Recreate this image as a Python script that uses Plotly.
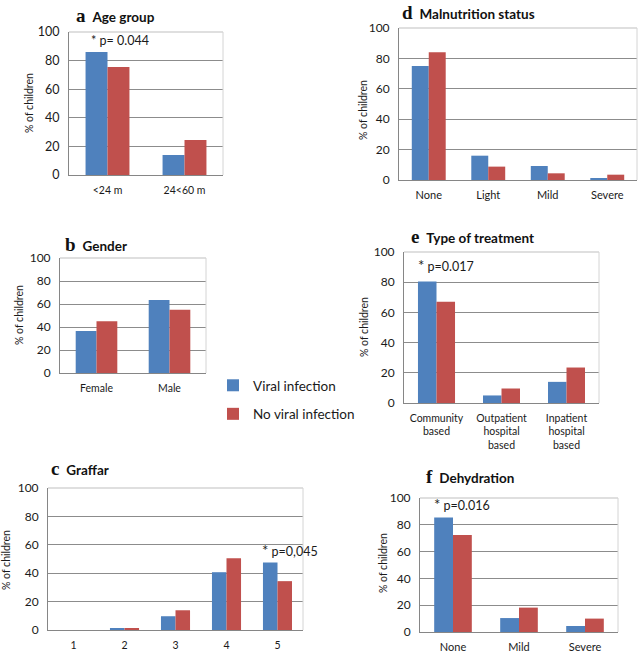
import plotly.graph_objects as go

W, H = 638, 653
BLUE = "#4F81BD"
RED = "#C0504D"
FONT = "Lato, Open Sans, sans-serif"
SERIF = "Liberation Serif, DejaVu Serif, serif"

series_names = ["Viral infection", "No viral infection"]

age_cats = ["<24 m", "24<60 m"]
age_viral = [86, 14]
age_noviral = [75.5, 24.5]

gender_cats = ["Female", "Male"]
gender_viral = [36.5, 63.5]
gender_noviral = [45, 55]

graffar_cats = ["1", "2", "3", "4", "5"]
graffar_viral = [0, 1.2, 9.7, 40.7, 47.5]
graffar_noviral = [0, 0.9, 13.9, 50.6, 34.4]

malnut_cats = ["None", "Light", "Mild", "Severe"]
malnut_viral = [75, 16, 9.2, 0.9]
malnut_noviral = [84, 8.8, 4.4, 3.5]

treat_cats = ["Community<br>based", "Outpatient<br>hospital<br>based", "Inpatient<br>hospital<br>based"]
treat_viral = [80.5, 5, 14]
treat_noviral = [67, 9.6, 23.5]

dehyd_cats = ["None", "Mild", "Severe"]
dehyd_viral = [85.4, 10.4, 4.5]
dehyd_noviral = [72.4, 18.2, 10]

y_ticks = [0, 20, 40, 60, 80, 100]

# layout geometry (pixels): plot box (x0, y0, x1, y1), title pos, y-title pos, p-value annotation
panels = [
    dict(letter="a", title="Age group", cats=age_cats, v=age_viral, n=age_noviral,
         box=(69, 32, 223, 175), tpos=(74, 15), ytpos=(29, 103), ytick=12.5, xtick=10.5,
         note=("* p= 0.044", 89, 41)),
    dict(letter="b", title="Gender", cats=gender_cats, v=gender_viral, n=gender_noviral,
         box=(60, 258, 206, 373), tpos=(63, 244), ytpos=(19, 315), ytick=12, xtick=10.5,
         note=None),
    dict(letter="c", title="Graffar", cats=graffar_cats, v=graffar_viral, n=graffar_noviral,
         box=(48, 488, 303, 630), tpos=(49, 468), ytpos=(6, 560), ytick=12, xtick=10.5,
         note=("<span style='font-size:15px'>*</span> p=0,045", 260, 550)),
    dict(letter="d", title="Malnutrition status", cats=malnut_cats, v=malnut_viral, n=malnut_noviral,
         box=(399, 28, 637, 180), tpos=(400, 13), ytpos=(363, 110), ytick=12, xtick=11,
         note=None),
    dict(letter="e", title="Type of treatment", cats=treat_cats, v=treat_viral, n=treat_noviral,
         box=(404, 252, 599, 403), tpos=(409, 237), ytpos=(364, 327), ytick=12, xtick=10.5,
         note=("<span style='font-size:15px'>*</span> p=0.017", 416, 265)),
    dict(letter="f", title="Dehydration", cats=dehyd_cats, v=dehyd_viral, n=dehyd_noviral,
         box=(420, 498, 618, 632), tpos=(424, 476), ytpos=(383, 563), ytick=12, xtick=11,
         note=("<span style='font-size:15px'>*</span> p=0.016", 432, 504)),
]

fig = go.Figure()
layout = {}
annotations = []
shapes = []

def px(x):
    return x / W

def py(y):
    return 1 - y / H

for i, p in enumerate(panels):
    sfx = "" if i == 0 else str(i + 1)
    xa, ya = "x" + sfx, "y" + sfx
    fig.add_bar(x=p["cats"], y=p["v"], name=series_names[0], marker_color=BLUE,
                marker_line_width=0, xaxis=xa, yaxis=ya, showlegend=(i == 0),
                legendgroup="v", hoverinfo="x+y")
    fig.add_bar(x=p["cats"], y=p["n"], name=series_names[1], marker_color=RED,
                marker_line_width=0, xaxis=xa, yaxis=ya, showlegend=(i == 0),
                legendgroup="n", hoverinfo="x+y")
    x0, y0, x1, y1 = p["box"]
    layout["xaxis" + sfx] = dict(
        domain=[px(x0), px(x1)], anchor=ya, type="category",
        showline=True, linecolor="#868686", linewidth=1, showgrid=False,
        ticks="", tickfont=dict(size=p["xtick"], color="#1a1a1a", family=FONT),
        ticklabelstandoff=5, fixedrange=True, automargin=False,
    )
    layout["yaxis" + sfx] = dict(
        domain=[py(y1), py(y0)], anchor=xa, range=[0, 100], tickvals=y_ticks,
        showline=True, linecolor="#868686", linewidth=1,
        showgrid=True, gridcolor="#8c8c8c", gridwidth=1, zeroline=False,
        ticks="", tickfont=dict(size=p["ytick"], color="#1a1a1a", family=FONT),
        ticklabelstandoff=6, fixedrange=True, automargin=False,
    )
    # light plot-area border on top and right
    shapes.append(dict(type="line", xref=xa + " domain", yref=ya + " domain",
                       x0=0, x1=1, y0=1, y1=1, line=dict(color="#d4d4d4", width=1.5), layer="above"))
    shapes.append(dict(type="line", xref=xa + " domain", yref=ya + " domain",
                       x0=1, x1=1, y0=0, y1=1, line=dict(color="#d4d4d4", width=1), layer="above"))
    # panel title
    annotations.append(dict(
        xref="paper", yref="paper", x=px(p["tpos"][0]), y=py(p["tpos"][1]),
        xanchor="left", yanchor="middle", showarrow=False,
        text=f"<span style='font-family:{SERIF};font-size:19px'><b>{p['letter']}</b></span>"
             f"  <b>{p['title']}</b>",
        font=dict(family=FONT, size=13.5, color="#111111"),
    ))
    # y-axis title
    annotations.append(dict(
        xref="paper", yref="paper", x=px(p["ytpos"][0]), y=py(p["ytpos"][1]),
        xanchor="center", yanchor="middle", showarrow=False, textangle=-90,
        text="% of children", font=dict(family=FONT, size=10.5, color="#1a1a1a"),
    ))
    if p["note"]:
        t, nx, ny = p["note"]
        annotations.append(dict(
            xref="paper", yref="paper", x=px(nx), y=py(ny),
            xanchor="left", yanchor="middle", showarrow=False,
            text=t, font=dict(family=FONT, size=12.5, color="#1a1a1a"),
        ))

fig.update_layout(
    **layout,
    width=W, height=H,
    margin=dict(l=0, r=0, t=0, b=0, autoexpand=False),
    paper_bgcolor="white", plot_bgcolor="white",
    barmode="group", bargap=0.43, bargroupgap=0,
    font=dict(family=FONT, color="#1a1a1a"),
    annotations=annotations, shapes=shapes,
    showlegend=True,
    legend=dict(x=px(213), y=py(370), xanchor="left", yanchor="top",
                font=dict(family=FONT, size=13.5, color="#1a1a1a"),
                bgcolor="rgba(0,0,0,0)", tracegroupgap=8, itemwidth=30),
)

fig.write_html(
    "out.html",
    config={"displayModeBar": False},
    post_script="document.body.style.margin='0';document.body.style.padding='0';"
                "document.documentElement.style.overflow='hidden';",
)
